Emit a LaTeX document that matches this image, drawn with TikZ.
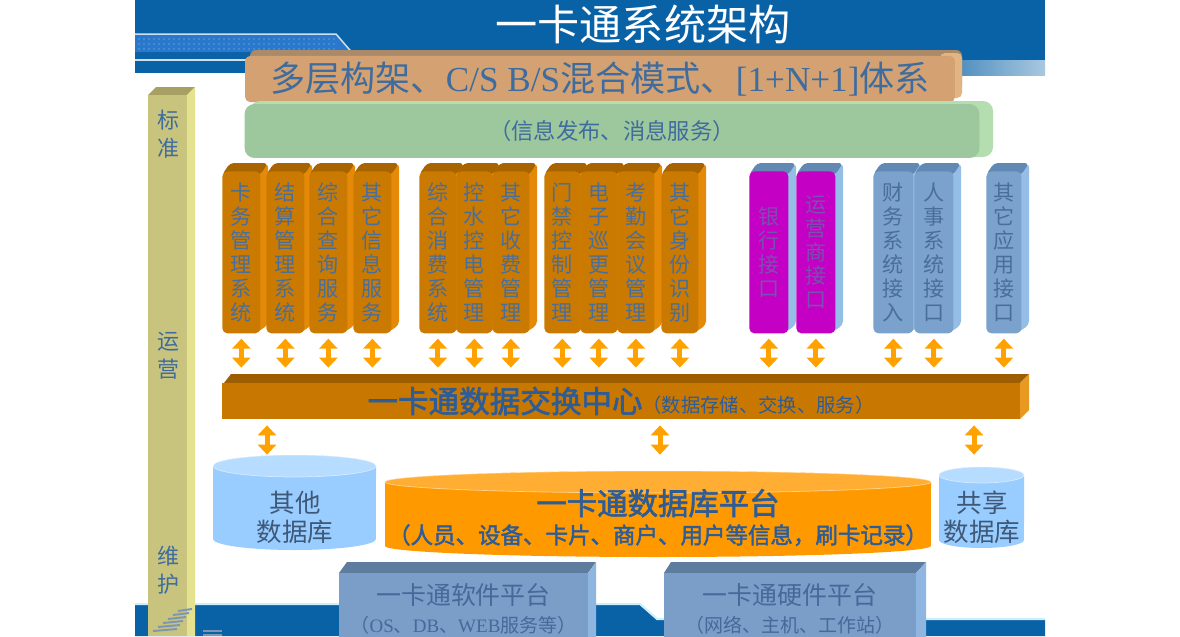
\documentclass[tikz,border=0pt]{standalone}
\usepackage{fontspec}
\setmainfont{Noto Sans CJK SC}[AutoFakeBold=2]
\newfontfamily\latinserif{Liberation Serif}
\usetikzlibrary{arrows.meta,calc}
\definecolor{Slide}{HTML}{0A62A6}
\definecolor{Stripe}{HTML}{2A78CC}
\definecolor{Dots}{HTML}{5E9EE2}
\definecolor{TxtBlue}{HTML}{3F6C9E}
\definecolor{OrF}{HTML}{CA7A00}
\definecolor{OrS}{HTML}{E48A08}
\definecolor{OrT}{HTML}{A86400}
\definecolor{OrX}{HTML}{4A6E9A}
\definecolor{BlF}{HTML}{7AA2CC}
\definecolor{BlS}{HTML}{94BEE6}
\definecolor{BlT}{HTML}{6288B4}
\definecolor{BlX}{HTML}{4A6E9A}
\definecolor{MgF}{HTML}{C400C4}
\definecolor{MgS}{HTML}{94BEE6}
\definecolor{MgT}{HTML}{6288B4}
\definecolor{MgX}{HTML}{7A50B0}
\definecolor{XcF}{HTML}{C87800}
\definecolor{XcT}{HTML}{9C5E00}
\definecolor{XcS}{HTML}{E89A20}
\definecolor{BrF}{HTML}{D4A272}
\definecolor{BrT}{HTML}{AA8A68}
\definecolor{BrS}{HTML}{E2B482}
\definecolor{GrF}{HTML}{9DC79C}
\definecolor{GrS}{HTML}{B4DEB0}
\definecolor{ColF}{HTML}{C8C47E}
\definecolor{ColS}{HTML}{E4E28E}
\definecolor{ColT}{HTML}{A8A062}
\definecolor{Arr}{HTML}{FFA200}
\definecolor{CylB}{HTML}{99CCFF}
\definecolor{CylT}{HTML}{B6DCFF}
\definecolor{CylO}{HTML}{FF9900}
\definecolor{CylOT}{HTML}{FFAE33}
\definecolor{DbTxt}{HTML}{3E5878}
\definecolor{MainTxt}{HTML}{2E5C96}
\definecolor{PlF}{HTML}{7A9EC8}
\definecolor{PlT}{HTML}{5E7C9E}
\definecolor{PlS}{HTML}{8EB6E0}
\definecolor{PlX}{HTML}{46699A}

% cylinder: x left, x right, y top, y bottom, rx, ry, body, top
\newcommand{\dbcyl}[8]{%
  \fill[#7] (#1,#3) -- (#1,#4) arc[start angle=180,end angle=360,x radius=#5cm,y radius=#6cm]
    -- (#2,#3) arc[start angle=0,end angle=180,x radius=#5cm,y radius=#6cm] -- cycle;
  \fill[#8, draw=white, draw opacity=0.5, line width=0.4pt] ($(#1,#3)!.5!(#2,#3)$) ellipse[x radius=#5cm,y radius=#6cm];
}

\begin{document}
\begin{tikzpicture}[x=0.02cm,y=-0.02cm,
    pfront/.style={rounded corners=0.1cm, minimum height=3.24cm, inner sep=0pt,
      anchor=north west, align=center, font=\fontsize{12}{13.6}\selectfont},
    dblarr/.style={draw=Arr, line width=0.1cm,
      {Triangle[length=0.2cm,width=0.36cm]}-{Triangle[length=0.2cm,width=0.36cm]}},
    coltxt/.style={text=TxtBlue, align=center, font=\fontsize{12.5}{16}\selectfont},
    dbtxt/.style={text=DbTxt, align=center, inner sep=0pt, minimum height=2.5cm,
      font=\fontsize{14.5}{16.4}\selectfont},
    plat/.style={fill=PlF, minimum height=1.44cm, inner sep=0pt},
    plattxt/.style={text=PlX, align=center, font=\fontsize{14.2}{15.9}\selectfont}]
\useasboundingbox (0,0) rectangle (1180,636);
\fill[white] (0,0) rectangle (1180,636);

% top band
\fill[Slide] (135,0) rectangle (1045,60);
\fill[Slide] (135,60) rectangle (250,73);
\fill[Stripe] (135,35) -- (336,35) -- (352,52) -- (135,52) -- cycle;
\foreach \i in {0,...,39}
  \foreach \j in {0,1,2}
    \fill[Dots] (139+5*\i,39+5*\j) circle (0.018cm);
\draw[white!80!Slide, line width=0.03cm] (135,34) -- (336,34) -- (355,56);
\draw[white!80!Slide, line width=0.03cm] (135,60) -- (250,60);
\shade[left color=Slide!70!white, right color=Slide!35!white] (962,60) rectangle (1045,75);
\node[text=white, font=\fontsize{24}{24}\selectfont] (title) at (643,24) {一卡通系统架构};

% bottom band
\fill[Slide] (135,605) -- (640,605) -- (657,620) -- (1045,620) -- (1045,636) -- (135,636) -- cycle;
\draw[white!80!cyan, line width=0.04cm] (135,604) -- (640,604) -- (657,619) -- (1045,619);

% layer bar
\fill[BrT, rounded corners=0.12cm] (250,50) rectangle (962,92);
\fill[BrS, rounded corners=0.1cm] (940,53) rectangle (962,98);
\node[fill=BrF, rounded corners=0.1cm, minimum width=14.2cm, minimum height=0.84cm,
  text=TxtBlue, font=\fontsize{20}{20}\selectfont] (layer) at (600,79)
  {多层构架、{\latinserif C/S B/S}混合模式、{\latinserif [1+N+1]}体系};

% info bar
\fill[GrS, rounded corners=0.2cm] (250,101) rectangle (993,157);
\node[fill=GrF, rounded corners=0.2cm, minimum width=14.7cm, minimum height=1.08cm,
  text=TxtBlue, font=\fontsize{12.7}{13}\selectfont] (info) at (612,131) {（信息发布、消息服务）};

% left column
\fill[ColT] (148,95) -- (156,87) -- (195,87) -- (187,95) -- cycle;
\fill[ColS] (187,95) -- (195,87) -- (195,636) -- (187,636) -- cycle;
\node[fill=ColF, minimum width=0.78cm, minimum height=10.82cm, inner sep=0pt,
  anchor=north west] (col) at (148,95) {};
\node[coltxt] (std) at (168,134) {标\\准};
\node[coltxt] (ops) at (168,356) {运\\营};
\node[coltxt] (mnt) at (168,570) {维\\护};
\foreach \k in {0,...,5}
  \draw[PlT!80!white, line width=0.04cm] (178-5*\k,611+4*\k) -- (192-3*\k,609+4*\k);
\draw[PlT!80!white, line width=0.04cm] (203,631) -- (222,631);
\draw[PlT!80!white, line width=0.04cm] (203,635) -- (222,635);

% application pillars
\foreach \pid/\xx/\ww/\cc/\txt in {
  p1/222/38/Or/{卡\\务\\管\\理\\系\\统},
  p2/266/38/Or/{结\\算\\管\\理\\系\\统},
  p3/309/38/Or/{综\\合\\查\\询\\服\\务},
  p4/353/38/Or/{其\\它\\信\\息\\服\\务},
  p5/419/37/Or/{综\\合\\消\\费\\系\\统},
  p6/456/36/Or/{控\\水\\控\\电\\管\\理},
  p7/492/37/Or/{其\\它\\收\\费\\管\\理},
  p8/544/36/Or/{门\\禁\\控\\制\\管\\理},
  p9/580/37/Or/{电\\子\\巡\\更\\管\\理},
  p10/617/37/Or/{考\\勤\\会\\议\\管\\理},
  p11/661/37/Or/{其\\它\\身\\份\\识\\别},
  p12/749/39/Mg/{银\\行\\接\\口},
  p13/796/39/Mg/{运\\营\\商\\接\\口},
  p14/873/40/Bl/{财\\务\\系\\统\\接\\入},
  p15/914/39/Bl/{人\\事\\系\\统\\接\\口},
  p16/986/35/Bl/{其\\它\\应\\用\\接\\口}} {
  \pgfmathsetmacro\wcm{\ww*0.02}
  \pgfmathsetmacro\xr{\xx+\ww}
  \fill[\cc S, rounded corners=0.08cm] (\xr-4,172) -- (\xr+8,163) -- (\xr+8,325) -- (\xr-4,333) -- cycle;
  \fill[\cc T, rounded corners=0.08cm] (\xx,175) -- (\xx+8,163) -- (\xr+8,163) -- (\xr,175) -- cycle;
  \node[pfront, fill=\cc F, text=\cc X, minimum width=\wcm cm] (\pid) at (\xx,171) {\txt};
}

% exchange centre
\fill[XcT] (224,383) -- (231,374) -- (1029,374) -- (1020,383) -- cycle;
\fill[XcS] (1020,383) -- (1029,374) -- (1029,410) -- (1020,419) -- cycle;
\node[fill=XcF, minimum width=15.96cm, minimum height=0.72cm, inner sep=0pt, text=MainTxt] (xc) at (621,401)
  {{\fontsize{17.4}{18}\selectfont\bfseries 一卡通数据交换中心}{\fontsize{11}{12}\selectfont （数据存储、交换、服务）}};

\foreach \i in {1,...,16}
  \draw[dblarr, shorten <=0.1cm, shorten >=0.3cm] (p\i.south) -- (p\i.south |- xc.north);

% databases
\dbcyl{213}{376}{466}{539}{1.63}{0.22}{CylB}{CylT}
\dbcyl{385}{931}{482}{546}{5.46}{0.22}{CylO}{CylOT}
\dbcyl{939}{1024}{475}{540}{0.85}{0.16}{CylB}{CylT}
\node[dbtxt] (odb) at (295,517.5) {其他\\数据库};
\node[dbtxt, text=MainTxt, font=\fontsize{12.8}{16.4}\selectfont\bfseries] (mdb) at (658,517.5)
  {\fontsize{17.3}{16.4}\selectfont 一卡通数据库平台\\（人员、设备、卡片、商户、用户等信息，刷卡记录）};
\node[dbtxt] (sdb) at (982,517.5) {共享\\数据库};

\coordinate (a1) at (267,0);
\coordinate (a2) at (660,0);
\coordinate (a3) at (974,0);
\draw[dblarr, shorten <=0.12cm] (xc.south -| a1) -- (odb.north -| a1);
\draw[dblarr, shorten <=0.12cm] (xc.south -| a2) -- (mdb.north -| a2);
\draw[dblarr, shorten <=0.12cm] (xc.south -| a3) -- (sdb.north -| a3);

% platforms
\fill[PlT] (339,573) -- (347,562) -- (596,562) -- (588,573) -- cycle;
\fill[PlS] (588,573) -- (596,562) -- (596,645) -- (588,645) -- cycle;
\node[plat, minimum width=4.98cm] (swp) at (463.5,609) {};
\node[plattxt] (swt) at (463.5,609)
  {一卡通软件平台\\\fontsize{10.8}{15.9}\selectfont （{\latinserif OS}、{\latinserif DB}、{\latinserif WEB}服务等）};
\fill[PlT] (664,573) -- (671,562) -- (926,562) -- (916,573) -- cycle;
\fill[PlS] (916,573) -- (926,562) -- (926,645) -- (916,645) -- cycle;
\node[plat, minimum width=5.04cm] (hwp) at (790,609) {};
\node[plattxt] (hwt) at (790,609)
  {一卡通硬件平台\\\fontsize{10.8}{15.9}\selectfont （网络、主机、工作站）};
\end{tikzpicture}
\end{document}
